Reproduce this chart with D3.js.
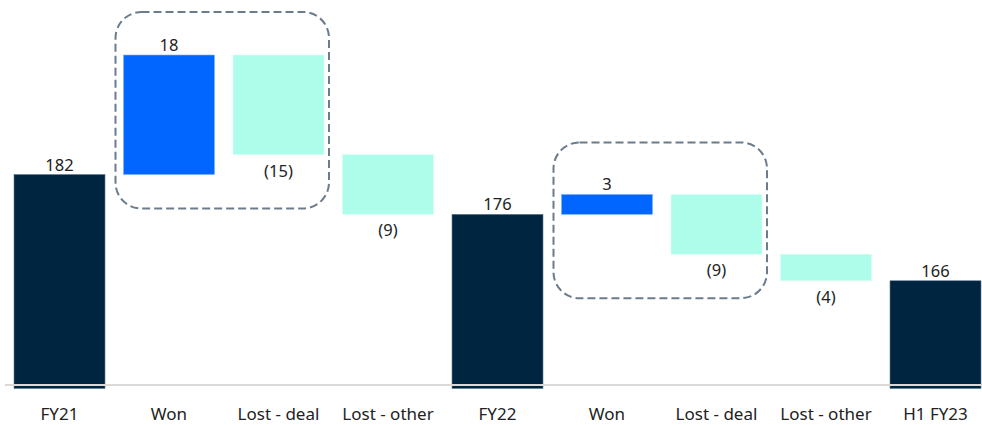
<!DOCTYPE html>
<html><head><meta charset="utf-8">
<script src="https://cdn.jsdelivr.net/npm/d3@7"></script>
<style>body{margin:0;background:#fff;}svg{display:block;}</style>
</head><body>
<svg id="c" width="982" height="425"></svg>
<script>
const categories = ["FY21","Won","Lost - deal","Lost - other","FY22","Won ","Lost - deal ","Lost - other ","H1 FY23"];
const displayLabels = ["FY21","Won","Lost - deal","Lost - other","FY22","Won","Lost - deal","Lost - other","H1 FY23"];
const values = [182, 18, -15, -9, 176, 3, -9, -4, 166];
const kinds = ["total","up","down","down","total","up","down","down","total"];
const valueLabels = ["182","18","(15)","(9)","176","3","(9)","(4)","166"];
const groups = [[1,2],[5,6]];

const colors = {total:"#002540", up:"#0066ff", down:"#adfdea"};
const svg = d3.select("#c");
const x = d3.scaleBand().domain(categories).range([4.75, 990.25]).paddingInner(0.169).paddingOuter(0.0845);
const y = d3.scaleLinear().domain([150, 200]).range([387, 55]);

let run = 0;
const bars = values.map((v,i)=>{
  let lo, hi;
  if (kinds[i]==="total"){ lo = 150; hi = v; run = v; }
  else { const s = run; run = run + v; lo = Math.min(s,run); hi = Math.max(s,run); }
  return {cat:categories[i], lo, hi, kind:kinds[i], label:valueLabels[i], v};
});

svg.selectAll("rect.bar").data(bars).join("rect")
  .attr("class","bar")
  .attr("x", d=>x(d.cat)).attr("width", x.bandwidth())
  .attr("y", d=>y(d.hi))
  .attr("height", d=> d.kind==="total" ? y(d.lo)-y(d.hi)+1.5 : y(d.lo)-y(d.hi))
  .attr("fill", d=>colors[d.kind])
  .attr("stroke", d=> d.kind==="total" ? "#5d7a90" : (d.kind==="up" ? "#7fb0ff" : "#d6fff5"))
  .attr("stroke-width", 0.6);

svg.append("line").attr("x1",5).attr("x2",982).attr("y1",385).attr("y2",385)
  .attr("stroke","#d9d9d9").attr("stroke-width",2);

const font = "'Noto Sans', 'Open Sans', sans-serif";
svg.selectAll("text.val").data(bars).join("text")
  .attr("class","val")
  .attr("x", d=>x(d.cat)+x.bandwidth()/2)
  .attr("y", d=> d.kind==="down" ? y(d.lo)+22 : y(d.hi)-4)
  .attr("text-anchor","middle")
  .attr("font-family",font)
  .attr("font-size",16.5).attr("fill","#222")
  .text(d=>d.label);

svg.selectAll("text.cat").data(categories).join("text")
  .attr("class","cat")
  .attr("x", d=>x(d)+x.bandwidth()/2)
  .attr("y", 420)
  .attr("text-anchor","middle")
  .attr("font-family",font)
  .attr("font-size",17).attr("fill","#222")
  .text((d,i)=>displayLabels[i]);

const boxPads = [{t:43,b:34},{t:52,b:44}];
groups.forEach((g,gi)=>{
  const bs = g.map(i=>bars[i]);
  const top = y(d3.max(bs,d=>d.hi)) - boxPads[gi].t;
  const bot = y(d3.min(bs,d=>d.lo)) + boxPads[gi].b;
  const left = x(categories[g[0]]) - 8;
  const right = x(categories[g[g.length-1]]) + x.bandwidth() + 5;
  svg.append("rect").attr("x",left).attr("y",top)
    .attr("width",right-left).attr("height",bot-top)
    .attr("rx",26).attr("ry",26)
    .attr("fill","none").attr("stroke","#6b7c8c").attr("stroke-width",2)
    .attr("stroke-dasharray","8,4");
});
</script>
</body></html>
